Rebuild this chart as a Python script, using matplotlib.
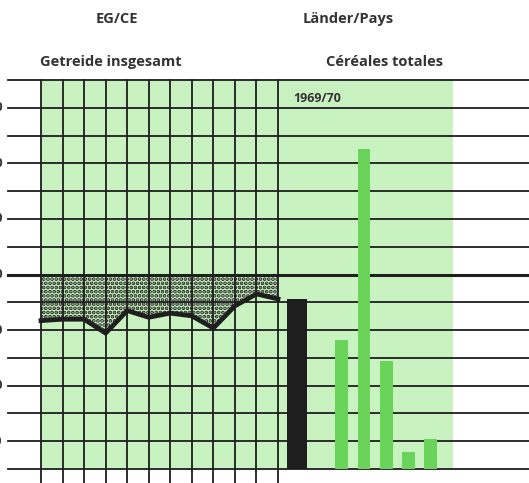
import matplotlib
matplotlib.use('Agg')
import matplotlib.pyplot as plt

plt.rcParams['font.family'] = ['Open Sans', 'DejaVu Sans']
plt.rcParams['hatch.linewidth'] = 1.9
plt.rcParams['hatch.color'] = '#1e1e1e'

# ── data ──────────────────────────────────────────────────────────────────────
years = ['1958/59', '1959/60', '1960/61', '1961/62', '1962/63', '1963/64',
         '1964/65', '1965/66', '1966/67', '1967/68', '1968/69', '1969/70']
ec_ratio = [83.4, 83.9, 83.9, 78.9, 87.0, 84.6, 86.1, 85.1, 80.7, 88.7, 93.0, 91.2]

countries = ['EG/CE', '', 'D', 'F', 'I', 'NL', 'UEBL/BLEU']
ratio_6970 = [91.2, None, 76.4, 145.1, 68.9, 36.0, 40.8]

grid_levels = list(range(30, 171, 10))
tick_levels = [40, 60, 80, 100, 120, 140, 160]

# ── palette ───────────────────────────────────────────────────────────────────
PALE = '#c8f3c0'
BAR_G = '#6ad35a'
INK = '#1e1e1e'
TXT = '#333333'

W, H = 529, 483
fig = plt.figure(figsize=(W / 100, H / 100), dpi=100)
fig.patch.set_facecolor('white')

# left series axis: x = season index
ax = fig.add_axes([0, 0, 1, 1])
ax.set_xlim(-1.903, 22.65)
ax.set_ylim(24.96, 198.8)
ax.axis('off')

# bar axis overlay: x = slot index
ax2 = fig.add_axes([0, 0, 1, 1], sharey=ax)
ax2.set_xlim(-13.30, 10.39)
ax2.axis('off')
ax2.patch.set_alpha(0)

n = len(years)
xs = list(range(n))

# green backgrounds
ax.fill_between([0, n - 1], 30, 170, color=PALE, lw=0, zorder=1)
ax.fill_between([n - 1, 19.12], 30, 170, color=PALE, lw=0, zorder=1)

# stippled gap to 100 %
ax.fill_between(xs, ec_ratio, 100, facecolor=PALE, edgecolor=INK,
                hatch='....', lw=0, zorder=2)
ax.plot(xs, ec_ratio, color=INK, lw=3.4, solid_joinstyle='miter', zorder=6)

# bars 1969/70 (empty slot separates EC from the member states)
base = 30
for i, v in enumerate(ratio_6970):
    if v is None:
        continue
    ax2.bar(i, v - base, bottom=base, width=0.92 if i == 0 else 0.58,
            color=INK if i == 0 else BAR_G, lw=0, zorder=3)

# grid
x0 = 8 / W
for lv in grid_levels:
    ax.axhline(lv, xmin=x0, xmax=1, color=INK,
               lw=2.2 if lv == 100 else 1.3, zorder=5)
for x in xs:
    ax.plot([x, x], [24.96, 170], color=INK, lw=1.3, zorder=5)

# scale labels, cut off at the left edge as in the original print
for lv in tick_levels:
    ax.text(-1.78, lv, str(lv), ha='right', va='center', fontsize=9,
            color=TXT, fontweight='bold', zorder=6)

# headings
fig.text(117 / W, 1 - 19 / H, 'EG/CE', ha='center', va='center',
         fontsize=10.5, fontweight='bold', color=TXT)
fig.text(348 / W, 1 - 19 / H, 'Länder/Pays', ha='center', va='center',
         fontsize=10.5, fontweight='bold', color=TXT)
fig.text(111 / W, 1 - 62 / H, 'Getreide insgesamt', ha='center', va='center',
         fontsize=10.5, fontweight='bold', color=TXT)
fig.text(385 / W, 1 - 62 / H, 'Céréales totales', ha='center', va='center',
         fontsize=10.5, fontweight='bold', color=TXT)
fig.text(293 / W, 1 - 98 / H, years[-1], ha='left', va='center',
         fontsize=9, fontweight='bold', color=TXT)

fig.savefig('out.png', dpi=100, facecolor='white')
